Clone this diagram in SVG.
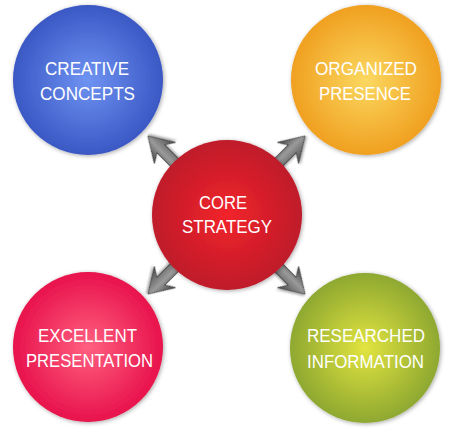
<svg xmlns="http://www.w3.org/2000/svg" width="451" height="432" viewBox="0 0 451 432">
  <defs>
    <style>
      .lbl { font-family: "Liberation Sans", Arial, sans-serif; font-size: 19px; fill: #ffffff; text-anchor: middle; }
      .circ { filter: url(#shadow); }
      .arr { fill: url(#gArrow); stroke: #333333; stroke-width: 0.8; stroke-linejoin: round; filter: url(#ashadow); }
    </style>
    <filter id="shadow" x="-20%" y="-20%" width="140%" height="140%">
      <feDropShadow dx="1" dy="1" stdDeviation="2" flood-color="#000" flood-opacity="0.35"/>
    </filter>
    <filter id="ashadow" x="-30%" y="-30%" width="160%" height="160%">
      <feDropShadow dx="1" dy="1.5" stdDeviation="1.2" flood-color="#000" flood-opacity="0.35"/>
    </filter>
    <radialGradient id="gBlue" cx="50%" cy="50%" r="50%">
      <stop offset="0" stop-color="#6f93f2"/>
      <stop offset="1" stop-color="#3a58c4"/>
    </radialGradient>
    <radialGradient id="gOrange" cx="50%" cy="50%" r="50%">
      <stop offset="0" stop-color="#fbd860"/>
      <stop offset="1" stop-color="#f0a020"/>
    </radialGradient>
    <radialGradient id="gRed" cx="50%" cy="50%" r="50%">
      <stop offset="0" stop-color="#f2242a"/>
      <stop offset="1" stop-color="#bf1a2c"/>
    </radialGradient>
    <radialGradient id="gPink" cx="50%" cy="50%" r="50%">
      <stop offset="0" stop-color="#ff6080"/>
      <stop offset="1" stop-color="#e8124c"/>
    </radialGradient>
    <radialGradient id="gGreen" cx="50%" cy="50%" r="50%">
      <stop offset="0" stop-color="#e2e440"/>
      <stop offset="1" stop-color="#8ea830"/>
    </radialGradient>
    <linearGradient id="gArrow" x1="0" y1="0" x2="0" y2="1">
      <stop offset="0" stop-color="#404040"/>
      <stop offset="0.45" stop-color="#9a9a9a"/>
      <stop offset="1" stop-color="#4a4a4a"/>
    </linearGradient>
    <path id="arrowShape" d="M0,0 L-24,-15 L-18,-5.5 L-50,-5.5 L-50,5.5 L-18,5.5 L-24,15 Z"/>
  </defs>

  <g id="connectors">
    <use href="#arrowShape" class="arr" transform="translate(148,136) rotate(225)"/>
    <use href="#arrowShape" class="arr" transform="translate(305,136) rotate(-45)"/>
    <use href="#arrowShape" class="arr" transform="translate(148,294) rotate(135)"/>
    <use href="#arrowShape" class="arr" transform="translate(305,294) rotate(45)"/>
  </g>

  <g id="node-creative">
    <circle class="circ" cx="88" cy="80" r="75" fill="url(#gBlue)"/>
    <text class="lbl" x="87" y="75" textLength="84" lengthAdjust="spacingAndGlyphs">CREATIVE</text>
    <text class="lbl" x="87.5" y="100" textLength="95" lengthAdjust="spacingAndGlyphs">CONCEPTS</text>
  </g>

  <g id="node-organized">
    <circle class="circ" cx="366" cy="80" r="75" fill="url(#gOrange)"/>
    <text class="lbl" x="366" y="75" textLength="102" lengthAdjust="spacingAndGlyphs">ORGANIZED</text>
    <text class="lbl" x="365" y="100" textLength="92" lengthAdjust="spacingAndGlyphs">PRESENCE</text>
  </g>

  <g id="node-excellent">
    <circle class="circ" cx="88" cy="347" r="75" fill="url(#gPink)"/>
    <text class="lbl" x="87.5" y="342" textLength="99" lengthAdjust="spacingAndGlyphs">EXCELLENT</text>
    <text class="lbl" x="89.5" y="367" textLength="127" lengthAdjust="spacingAndGlyphs">PRESENTATION</text>
  </g>

  <g id="node-researched">
    <circle class="circ" cx="365" cy="348" r="75" fill="url(#gGreen)"/>
    <text class="lbl" x="366" y="342" textLength="118" lengthAdjust="spacingAndGlyphs">RESEARCHED</text>
    <text class="lbl" x="365.5" y="368" textLength="117" lengthAdjust="spacingAndGlyphs">INFORMATION</text>
  </g>

  <g id="node-core">
    <circle class="circ" cx="227" cy="215" r="75" fill="url(#gRed)"/>
    <text class="lbl" x="223" y="209" textLength="48" lengthAdjust="spacingAndGlyphs">CORE</text>
    <text class="lbl" x="227" y="233" textLength="90" lengthAdjust="spacingAndGlyphs">STRATEGY</text>
  </g>
</svg>
